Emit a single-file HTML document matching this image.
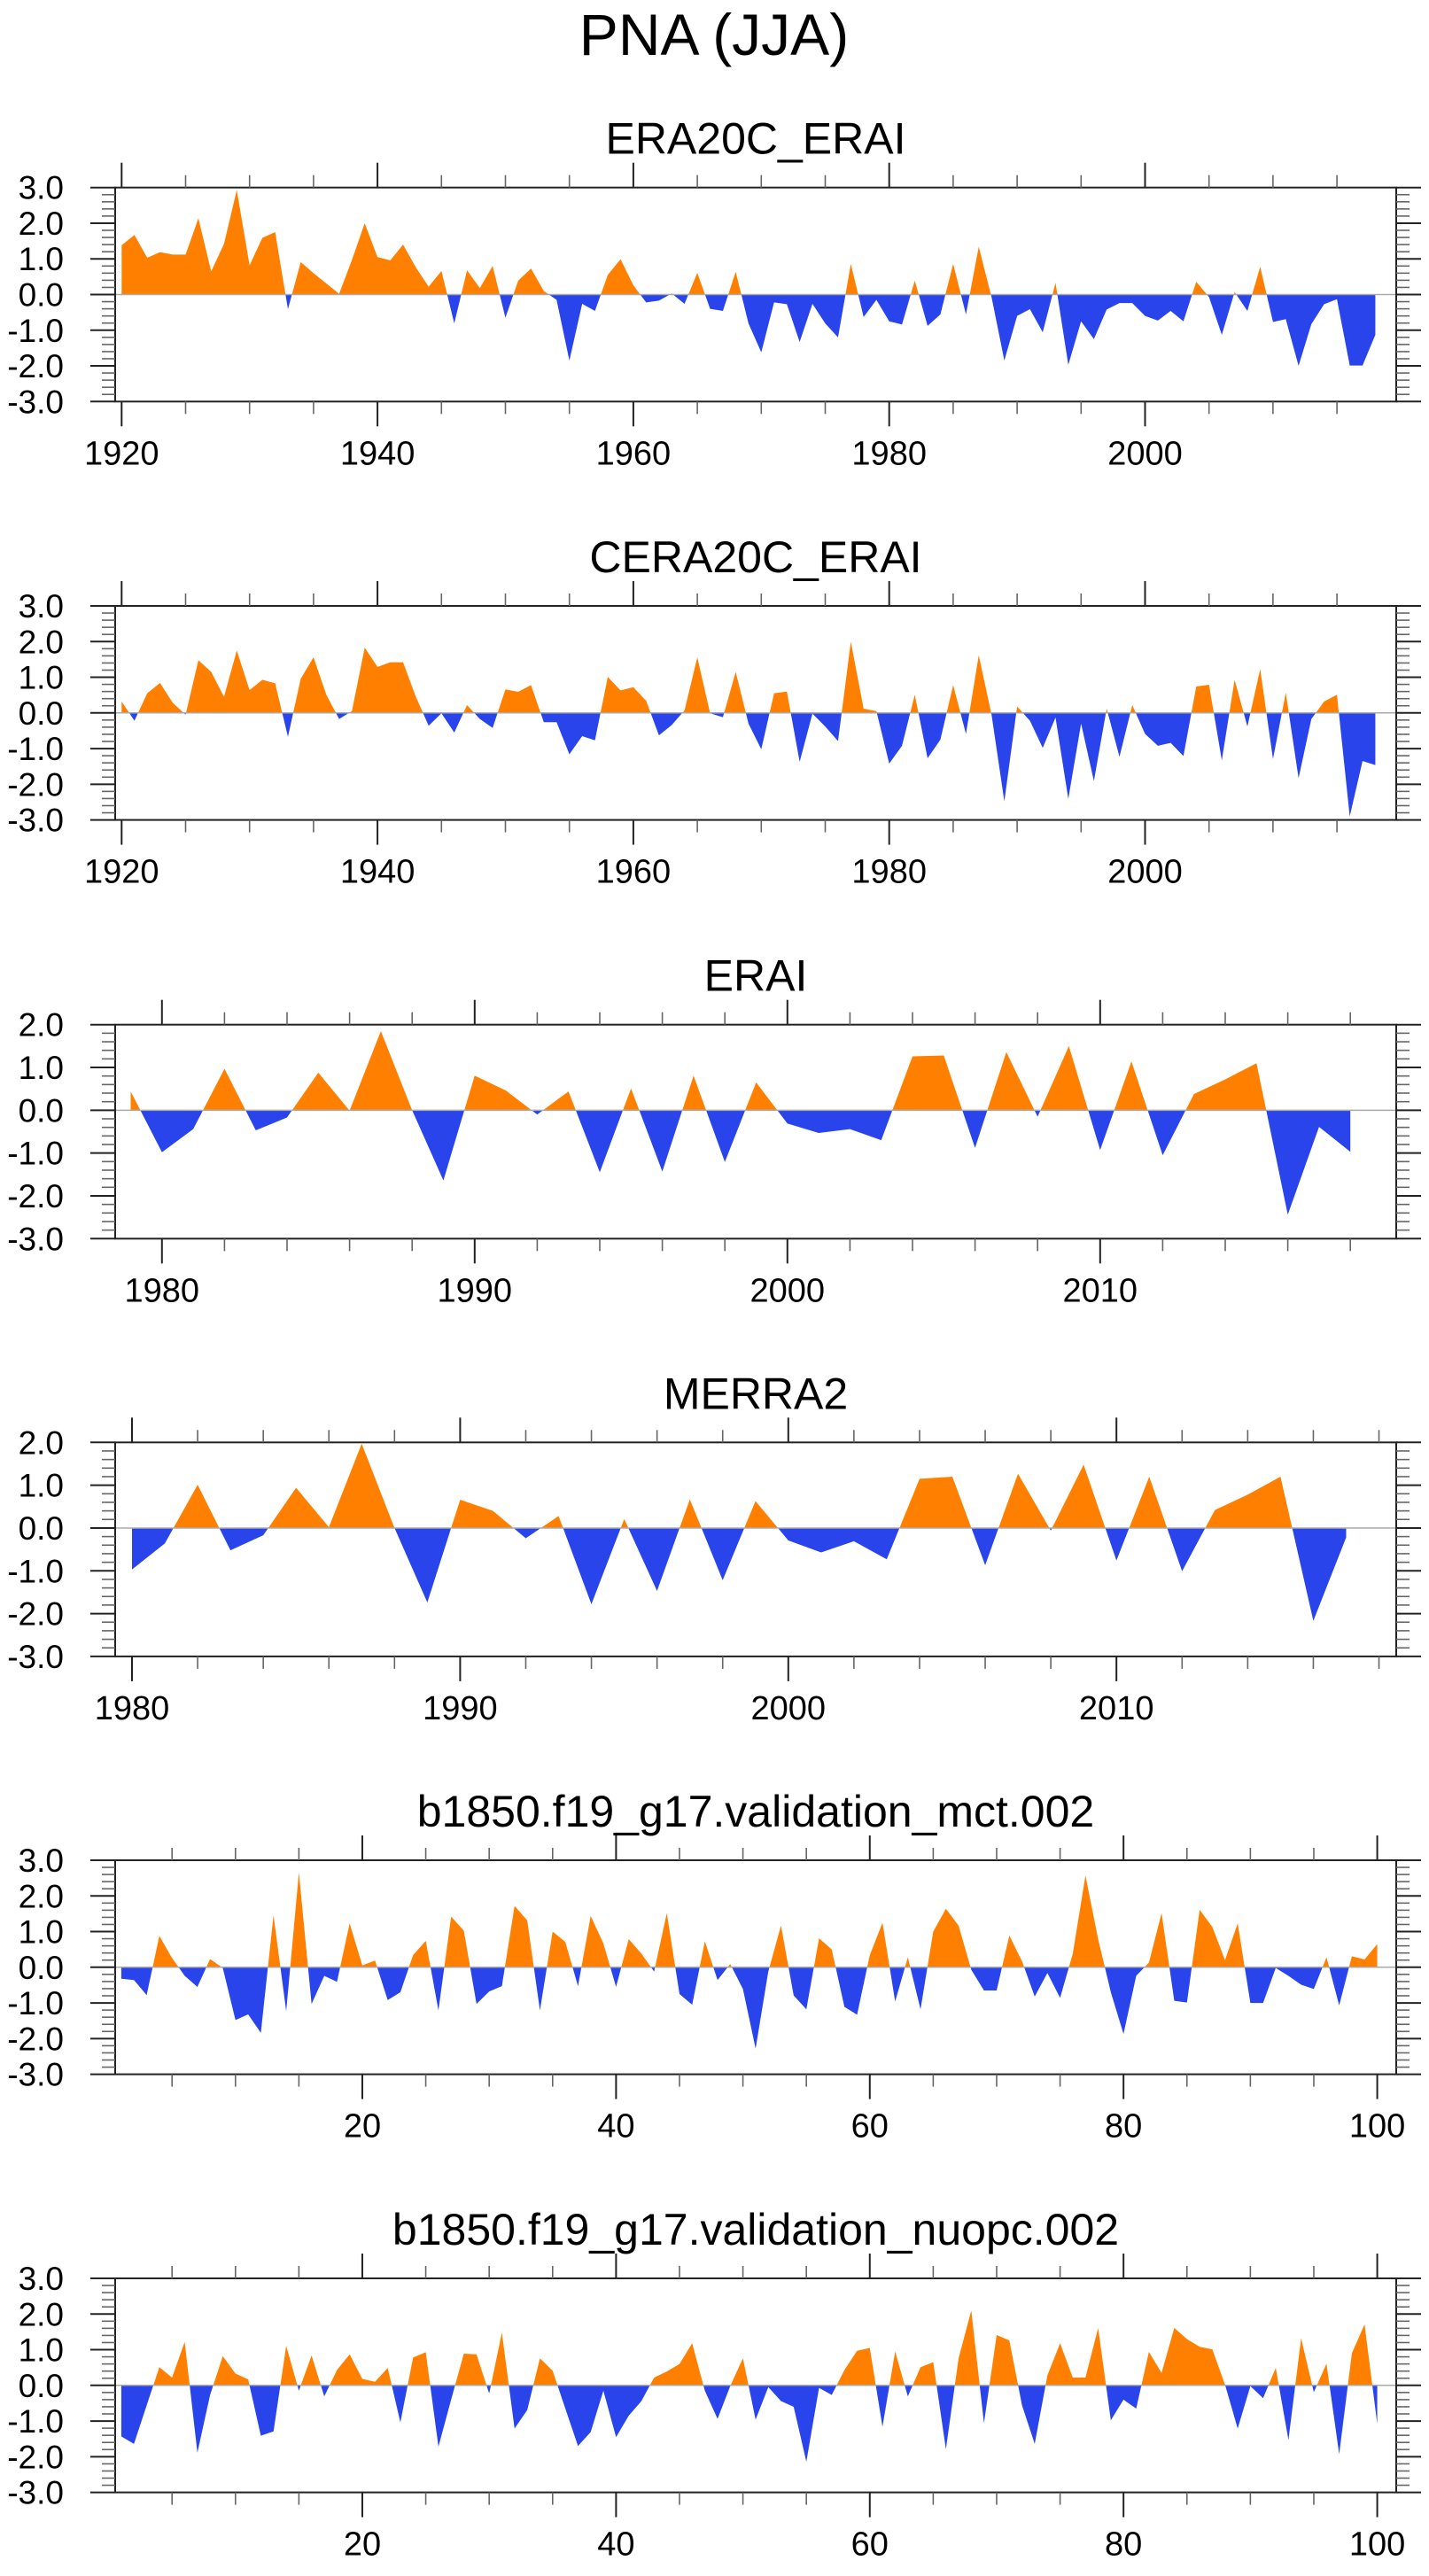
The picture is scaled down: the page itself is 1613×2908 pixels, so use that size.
<!DOCTYPE html>
<html>
<head>
<meta charset="utf-8">
<style>
html,body{margin:0;padding:0;background:#fff;}
svg{display:block;}
text{font-family:"Liberation Sans",Arial,sans-serif;fill:#000;}
</style>
</head>
<body>
<svg id="fig" xmlns="http://www.w3.org/2000/svg" width="1613" height="2908" viewBox="0 0 1613 2908">
<rect x="0" y="0" width="1613" height="2908" fill="#fff"/>
<text x="806" y="62" font-size="66" text-anchor="middle">PNA (JJA)</text>
</svg>
<script>
// ---- data ----
const era20cYears = [1920, 2018];
const era20cValues = [1.38,1.67,1.03,1.19,1.12,1.12,2.14,0.65,1.42,2.93,0.82,1.59,1.75,-0.41,0.91,0.6,0.31,0.02,0.97,2.0,1.05,0.96,1.4,0.76,0.22,0.66,-0.81,0.68,0.18,0.8,-0.65,0.39,0.73,0.1,-0.15,-1.85,-0.26,-0.46,0.55,0.99,0.26,-0.22,-0.17,0.03,-0.26,0.61,-0.4,-0.46,0.64,-0.81,-1.62,-0.22,-0.27,-1.33,-0.26,-0.81,-1.2,0.86,-0.63,-0.15,-0.75,-0.84,0.39,-0.88,-0.56,0.86,-0.56,1.34,-0.07,-1.85,-0.6,-0.41,-1.06,0.33,-1.97,-0.75,-1.25,-0.42,-0.24,-0.24,-0.6,-0.73,-0.46,-0.75,0.36,-0.07,-1.13,0.07,-0.46,0.78,-0.77,-0.69,-2.0,-0.83,-0.27,-0.13,-1.99,-1.99,-1.13];
const cera20cYears = [1920, 2018];
const cera20cValues = [0.32,-0.22,0.55,0.84,0.28,-0.05,1.48,1.15,0.45,1.75,0.64,0.93,0.83,-0.67,0.96,1.56,0.51,-0.17,0.05,1.83,1.29,1.42,1.42,0.45,-0.36,-0.01,-0.55,0.22,-0.17,-0.42,0.66,0.59,0.78,-0.26,-0.26,-1.16,-0.65,-0.77,1.01,0.63,0.72,0.34,-0.63,-0.34,0.07,1.56,-0.01,-0.12,1.15,-0.3,-1.02,0.55,0.6,-1.37,-0.02,-0.38,-0.79,2.0,0.12,0.05,-1.42,-0.92,0.51,-1.27,-0.75,0.78,-0.59,1.62,-0.05,-2.48,0.18,-0.22,-0.98,-0.13,-2.41,-0.3,-1.91,0.12,-1.23,0.22,-0.59,-0.92,-0.84,-1.21,0.74,0.79,-1.33,0.93,-0.38,1.23,-1.29,0.57,-1.83,-0.17,0.32,0.51,-2.9,-1.35,-1.46];
const eraiYears = [1979, 2018];
const eraiValues = [0.44,-0.98,-0.44,0.97,-0.47,-0.17,0.88,-0.01,1.85,0.0,-1.64,0.81,0.46,-0.1,0.44,-1.45,0.51,-1.43,0.81,-1.21,0.65,-0.31,-0.53,-0.44,-0.7,1.26,1.28,-0.88,1.36,-0.15,1.5,-0.93,1.14,-1.05,0.38,0.72,1.1,-2.44,-0.39,-0.97];
const merra2Years = [1980, 2017];
const merra2Values = [-0.97,-0.36,1.01,-0.52,-0.17,0.94,0.02,1.97,0.0,-1.74,0.66,0.4,-0.24,0.28,-1.78,0.21,-1.47,0.67,-1.22,0.63,-0.29,-0.57,-0.31,-0.73,1.15,1.2,-0.87,1.27,-0.06,1.48,-0.76,1.2,-1.01,0.42,0.78,1.2,-2.17,-0.22];
const mctYears = [1, 100];
const mctValues = [-0.32,-0.36,-0.78,0.88,0.26,-0.24,-0.55,0.23,-0.02,-1.48,-1.32,-1.84,1.46,-1.23,2.66,-1.03,-0.24,-0.41,1.23,0.05,0.19,-0.92,-0.7,0.34,0.74,-1.21,1.42,1.03,-1.03,-0.68,-0.53,1.72,1.31,-1.21,1.0,0.71,-0.53,1.44,0.67,-0.55,0.79,0.38,-0.12,1.52,-0.75,-1.05,0.73,-0.36,0.09,-0.61,-2.28,-0.12,1.17,-0.79,-1.18,0.81,0.5,-1.11,-1.33,0.34,1.25,-0.96,0.28,-1.18,1.0,1.64,1.17,-0.07,-0.65,-0.65,0.89,0.17,-0.82,-0.16,-0.86,0.38,2.57,0.79,-0.7,-1.87,-0.24,0.13,1.52,-0.94,-0.99,1.61,1.13,0.2,1.23,-1.0,-1.0,-0.02,-0.24,-0.49,-0.61,0.28,-1.07,0.31,0.22,0.65];
const nuopcYears = [1, 100];
const nuopcValues = [-1.43,-1.64,-0.56,0.51,0.22,1.22,-1.89,-0.27,0.82,0.33,0.17,-1.41,-1.29,1.11,-0.15,0.84,-0.31,0.43,0.87,0.18,0.1,0.49,-1.04,0.78,0.93,-1.72,-0.4,0.89,0.87,-0.23,1.48,-1.21,-0.69,0.76,0.41,-0.65,-1.7,-1.31,-0.15,-1.45,-0.85,-0.44,0.22,0.39,0.6,1.18,-0.15,-0.94,-0.02,0.76,-0.96,-0.05,-0.44,-0.6,-2.14,-0.07,-0.27,0.43,0.97,1.05,-1.16,0.95,-0.31,0.51,0.65,-1.79,0.76,2.1,-1.06,1.41,1.26,-0.56,-1.64,0.28,1.18,0.22,0.22,1.61,-0.98,-0.4,-0.65,0.94,0.35,1.61,1.3,1.08,1.01,0.02,-1.21,-0.02,-0.36,0.49,-1.53,1.32,-0.19,0.61,-1.93,0.9,1.71,-1.08];
const yTicks3 = [3.0,2.0,1.0,0.0,-1.0,-2.0,-3.0];
const yTicks2 = [2.0,1.0,0.0,-1.0,-2.0,-3.0];
const xLabelsCentury = [1920,1940,1960,1980,2000];
const xLabelsErai = [1980,1990,2000,2010];
const xLabelsModel = [20,40,60,80,100];

// ---- layout ----
const NS = "http://www.w3.org/2000/svg";
const svg = document.getElementById('fig');
const FL = 130, FR = 1576, FH = 241.6;
function mk(tag, attrs, parent){
  const e = document.createElementNS(NS, tag);
  for (const k in attrs) e.setAttribute(k, attrs[k]);
  (parent||svg).appendChild(e);
  return e;
}
const panels = [
  {name:'era20c-erai', title:'ERA20C_ERAI', top:211.7, years:era20cYears, vals:era20cValues, ymax:3, yt:yTicks3, x0:1920, px0:137.3, ppu:14.44, major:20, minor:5, tmin:1920, tmax:2015, labels:xLabelsCentury},
  {name:'cera20c-erai', title:'CERA20C_ERAI', top:684, years:cera20cYears, vals:cera20cValues, ymax:3, yt:yTicks3, x0:1920, px0:137.3, ppu:14.44, major:20, minor:5, tmin:1920, tmax:2015, labels:xLabelsCentury},
  {name:'erai', title:'ERAI', top:1156.7, years:eraiYears, vals:eraiValues, ymax:2, yt:yTicks2, x0:1979, px0:147.5, ppu:35.3, major:10, minor:2, tmin:1980, tmax:2018, labels:xLabelsErai},
  {name:'merra2', title:'MERRA2', top:1628.3, years:merra2Years, vals:merra2Values, ymax:2, yt:yTicks2, x0:1980, px0:149, ppu:37.04, major:10, minor:2, tmin:1980, tmax:2018, labels:xLabelsErai},
  {name:'mct', title:'b1850.f19_g17.validation_mct.002', top:2100, years:mctYears, vals:mctValues, ymax:3, yt:yTicks3, x0:1, px0:136.9, ppu:14.32, major:20, minor:5, tmin:5, tmax:100, labels:xLabelsModel},
  {name:'nuopc', title:'b1850.f19_g17.validation_nuopc.002', top:2572, years:nuopcYears, vals:nuopcValues, ymax:3, yt:yTicks3, x0:1, px0:136.9, ppu:14.32, major:20, minor:5, tmin:5, tmax:100, labels:xLabelsModel}
];

panels.forEach((p, pi) => {
  const g = mk('g', {});
  
  
  const top = p.top, bot = top + FH;
  const ymin = -3;
  const yScale = v => top + (p.ymax - v) / (p.ymax - ymin) * FH;
  const xScale = t => p.px0 + (t - p.x0) * p.ppu;
  const zy = yScale(0);

  const title = mk('text', {x:(FL+FR)/2, y:top-38, 'font-size':50, 'text-anchor':'middle'}, g);
  title.textContent = p.title;
  
  

  const cid = 'c' + pi;
  const defs = mk('defs', {}, g);
  const cp1 = mk('clipPath', {id:cid+'p'}, defs);
  mk('rect', {x:FL, y:top, width:FR-FL, height:zy-top}, cp1);
  const cp2 = mk('clipPath', {id:cid+'n'}, defs);
  mk('rect', {x:FL, y:zy, width:FR-FL, height:bot-zy}, cp2);

  let d = '';
  p.vals.forEach((v, i) => {
    const t = p.years[0] + i;
    d += (i ? 'L' : 'M') + xScale(t).toFixed(2) + ',' + yScale(v).toFixed(2);
  });
  const tEnd = p.years[0] + p.vals.length - 1;
  d += 'L' + xScale(tEnd).toFixed(2) + ',' + zy + 'L' + xScale(p.years[0]).toFixed(2) + ',' + zy + 'Z';
  const pos = mk('path', {d:d, fill:'#ff8000', 'clip-path':'url(#'+cid+'p)'}, g);
  
  
  const neg = mk('path', {d:d, fill:'#2844ea', 'clip-path':'url(#'+cid+'n)'}, g);
  
  

  const zl = mk('line', {x1:FL, x2:FR, y1:zy, y2:zy, stroke:'#aaa', 'stroke-width':1.5}, g);
  
  

  const fr = mk('rect', {x:FL, y:top, width:FR-FL, height:FH, fill:'none', stroke:'#222', 'stroke-width':2}, g);
  
  

  for (let k = Math.round(ymin*5); k <= p.ymax*5; k++) {
    const v = k/5, y = yScale(v);
    const isMaj = (k % 5 === 0);
    const len = isMaj ? 28 : 15;
    mk('line', {x1:FL-len, x2:FL, y1:y, y2:y, stroke: isMaj?'#222':'#666', 'stroke-width':isMaj?2:1.6}, g);
    mk('line', {x1:FR, x2:FR+len, y1:y, y2:y, stroke: isMaj?'#222':'#666', 'stroke-width':isMaj?2:1.6}, g);
  }
  p.yt.forEach(v => {
    const t = mk('text', {x:72, y:yScale(v)+13, 'font-size':37, 'text-anchor':'end'}, g);
    t.textContent = v.toFixed(1);
    
    
  });

  for (let t = p.tmin; t <= p.tmax; t += p.minor) {
    const x = xScale(t);
    const isMaj = (t % p.major === 0);
    const len = isMaj ? 28 : 14;
    mk('line', {x1:x, x2:x, y1:top-len, y2:top, stroke:isMaj?'#222':'#666', 'stroke-width':isMaj?2:1.6}, g);
    mk('line', {x1:x, x2:x, y1:bot, y2:bot+len, stroke:isMaj?'#222':'#666', 'stroke-width':isMaj?2:1.6}, g);
  }
  p.labels.forEach(v => {
    const t = mk('text', {x:xScale(v), y:bot+71, 'font-size':38, 'text-anchor':'middle'}, g);
    t.textContent = String(v);
    
    
  });
});
</script>
</body>
</html>
